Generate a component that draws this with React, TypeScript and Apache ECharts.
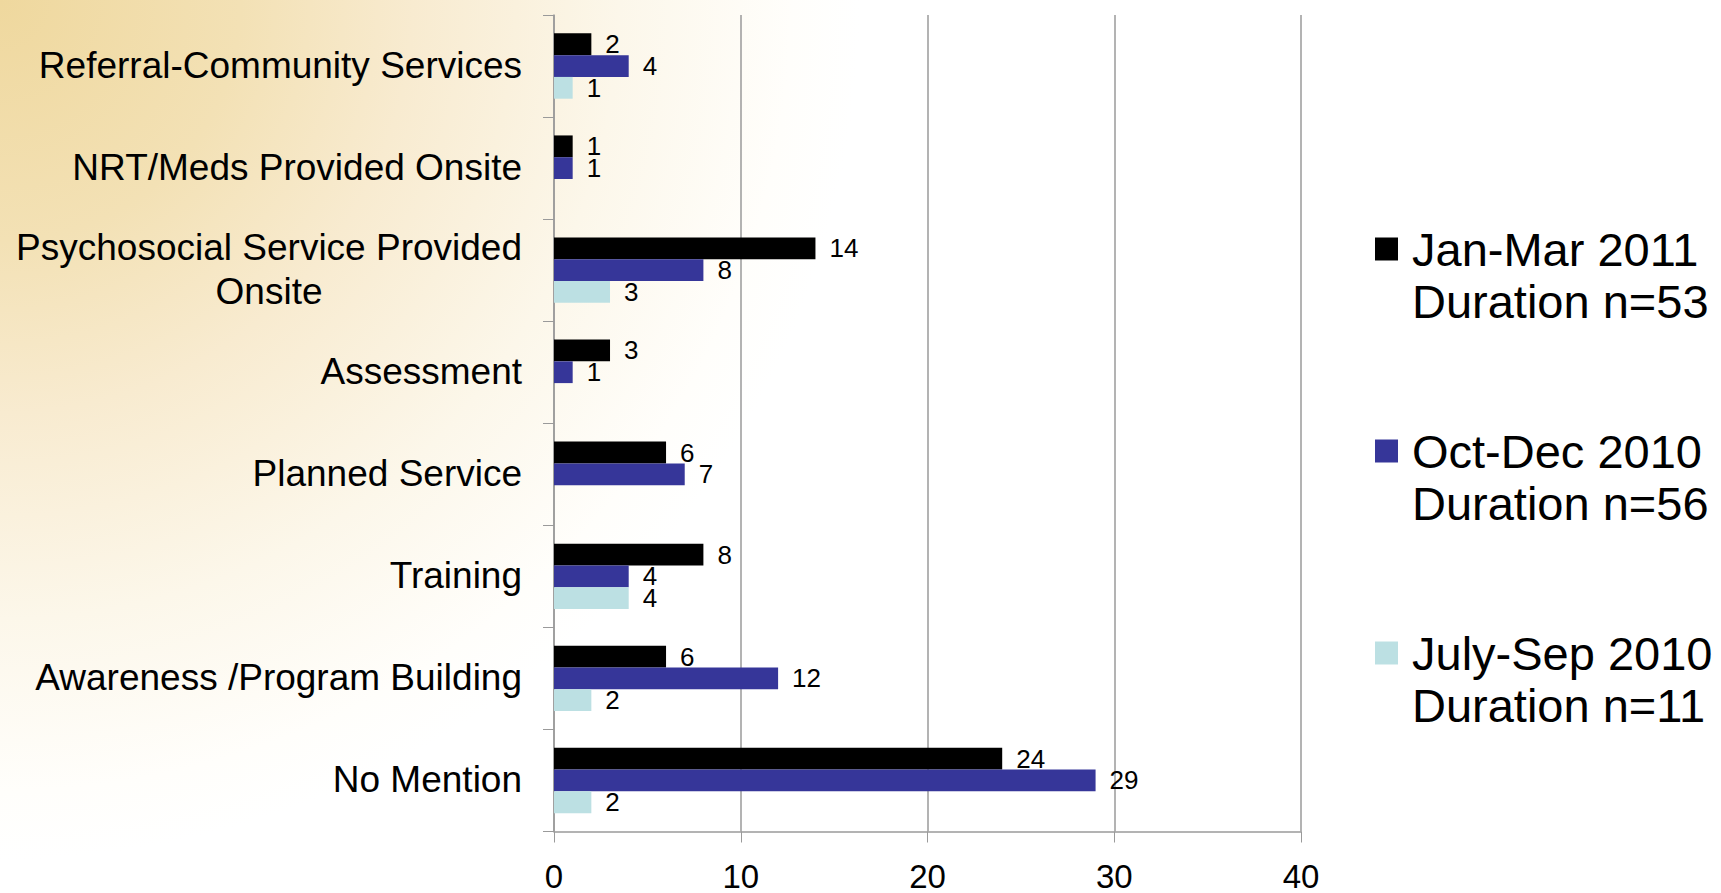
import React, { useEffect, useRef } from "react";
import * as echarts from "echarts";

const categories = [
  "Referral-Community Services",
  "NRT/Meds Provided Onsite",
  "Psychosocial Service Provided\nOnsite",
  "Assessment",
  "Planned Service",
  "Training",
  "Awareness /Program Building",
  "No Mention",
];

const seriesNames = ["Jan-Mar 2011", "Oct-Dec 2010", "July-Sep 2010"];
const durations = ["Duration n=53", "Duration n=56", "Duration n=11"];
const seriesColors = ["#000000", "#363699", "#BCE0E3"];

const janMar2011 = [2, 1, 14, 3, 6, 8, 6, 24];
const octDec2010 = [4, 1, 8, 1, 7, 4, 12, 29];
const julySep2010 = [1, null, 3, null, null, 4, 2, 2];

const xTicks = { min: 0, max: 40, interval: 10 };

const FONT = "'Liberation Sans', Arial, sans-serif";

export default function App() {
  const ref = useRef<HTMLDivElement>(null);

  useEffect(() => {
    if (!ref.current) return;
    const chart = echarts.init(ref.current, null, { renderer: "svg" });
    const values = [janMar2011, octDec2010, julySep2010];

    const option = {
      animation: false,
      textStyle: { fontFamily: FONT },
      grid: { left: 554, top: 15, width: 747, bottom: 56, containLabel: false },
      legend: {
        orient: "vertical",
        left: 1370,
        top: 166,
        itemWidth: 23,
        itemHeight: 23,
        itemGap: 46,
        icon: "rect",
        selectedMode: false,
        data: seriesNames,
        formatter: (name: string) => {
          const i = seriesNames.indexOf(name);
          return `{s| }\n{a|${name}}\n{a|${durations[i]}}`;
        },
        textStyle: {
          color: "#000",
          fontFamily: FONT,
          fontSize: 47,
          lineHeight: 52,
          rich: {
            s: { fontSize: 47, lineHeight: 52, fontFamily: FONT },
            a: {
              fontSize: 47,
              lineHeight: 52,
              color: "#000",
              fontFamily: FONT,
              padding: [0, 0, 0, 9],
            },
          },
        },
      },
      xAxis: {
        type: "value",
        min: xTicks.min,
        max: xTicks.max,
        interval: xTicks.interval,
        axisLine: { show: true, lineStyle: { color: "#9a9a9a", width: 1.5 } },
        axisTick: { show: true, length: 11, lineStyle: { color: "#9a9a9a" } },
        splitLine: { show: true, lineStyle: { color: "#9a9a9a", width: 1.5 } },
        axisLabel: {
          color: "#000",
          fontSize: 33,
          lineHeight: 26,
          margin: 32,
          fontFamily: FONT,
        },
      },
      yAxis: {
        type: "category",
        inverse: true,
        data: categories,
        axisLine: { show: true, lineStyle: { color: "#9a9a9a", width: 1.5 } },
        axisTick: { show: true, length: 11, lineStyle: { color: "#9a9a9a" } },
        splitLine: { show: false },
        axisLabel: {
          color: "#000",
          fontSize: 37,
          margin: 32,
          fontFamily: FONT,
          lineHeight: 44,
          formatter: (v: string) =>
            v
              .split("\n")
              .map((l) => `{c|${l}}`)
              .join("\n"),
          rich: {
            c: {
              fontSize: 37,
              lineHeight: 44,
              color: "#000",
              align: "center",
              fontFamily: FONT,
              padding: [0, 0, 1, 0],
            },
          },
        },
      },
      series: seriesNames.map((name, i) => ({
        name,
        type: "bar",
        data: values[i],
        barGap: "0%",
        barCategoryGap: "36%",
        itemStyle: { color: seriesColors[i] },
        label: {
          show: true,
          position: "right",
          distance: 14,
          color: "#000",
          fontSize: 26,
          fontFamily: FONT,
        },
      })),
    };

    chart.setOption(option as any);
    return () => chart.dispose();
  }, []);

  return (
    <div
      ref={ref}
      style={{
        position: "absolute",
        left: 0,
        top: 0,
        width: 1721,
        height: 893,
        background:
          "radial-gradient(circle 860px at 0px 0px, #EFD89E 0%, #F3E1B5 28%, #F8EBD0 48%, #FCF7EA 72%, #FFFEFB 92%, #FFFFFF 100%)",
      }}
    />
  );
}
